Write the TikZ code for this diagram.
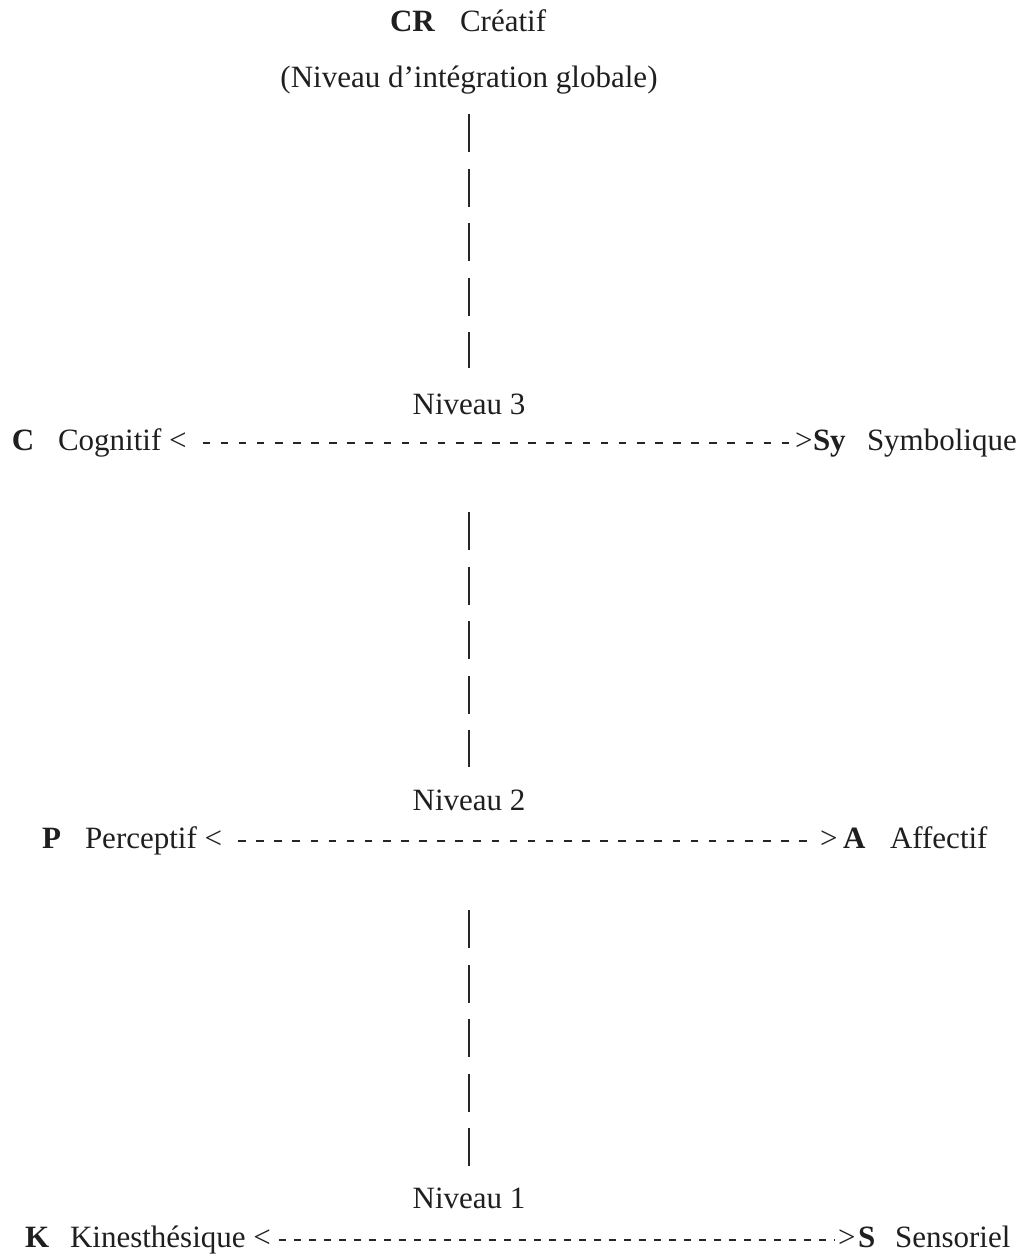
\documentclass[tikz,border=0pt]{standalone}
\usepackage{fontspec}
\setmainfont{Liberation Serif}
\usetikzlibrary{calc}
\begin{document}
\begin{tikzpicture}[x=1pt,y=-1pt,
  lbl/.style={inner sep=0pt, outer sep=0pt, font=\fontsize{31}{37}\selectfont, anchor=base west, text=black!88},
  ctr/.style={lbl, anchor=base},
  key/.style={lbl, font=\fontsize{31}{37}\selectfont\bfseries},
  vdash/.style={line width=2.6pt, dash pattern=on 38pt off 16.5pt, draw=black!85},
  hdash/.style={line width=2pt, dash pattern=on 7.6pt off 10.5pt, draw=black!85},
  hdashK/.style={line width=2pt, dash pattern=on 7.6pt off 7.4pt, draw=black!85}]
\useasboundingbox (0,0) rectangle (1027,1257);
% top
\node[key] (CR) at (390,32) {CR};
\node[lbl] (cre) at (460,32) {Créatif};
\node[ctr] (glob) at (469,88) {(Niveau d’intégration globale)};
% level 3
\node[ctr] (n3) at (469,414) {Niveau 3};
\node[key] (C) at (12,450) {C};
\node[lbl] (cog) at (58,450) {Cognitif <};
\node[lbl] (gtC) at (795,450) {>};
\node[key] (Sy) at (813,450) {Sy};
\node[lbl] (sym) at (867,450) {Symbolique};
% level 2
\node[ctr] (n2) at (469,810) {Niveau 2};
\node[key] (P) at (42,848) {P};
\node[lbl] (per) at (85,848) {Perceptif <};
\node[lbl] (gtP) at (820,848) {>};
\node[key] (A) at (843,848) {A};
\node[lbl] (aff) at (890,848) {Affectif};
% level 1
\node[ctr] (n1) at (469,1208) {Niveau 1};
\node[key] (K) at (25,1247) {K};
\node[lbl] (kin) at (70,1247) {Kinesthésique <};
\node[lbl] (gtK) at (838,1247) {>};
\node[key] (S) at (858,1247) {S};
\node[lbl] (sen) at (895,1247) {Sensoriel};
% vertical connectors
\draw[vdash] ($(glob.south)+(0,19.5)$) -- ($(n3.north)+(0,-25)$);
\draw[vdash] ($(n3.south)+(0,98)$) -- ($(n2.north)+(0,-22)$);
\draw[vdash] ($(n2.south)+(0,100)$) -- ($(n1.north)+(0,-21)$);
% horizontal connectors
\draw[hdash] ($(cog.base east)+(16,-7.5)$) -- ($(gtC.base west)+(-3,-7.5)$);
\draw[hdash] ($(per.base east)+(16,-7.5)$) -- ($(gtP.base west)+(-3,-7.5)$);
\draw[hdashK] ($(kin.base east)+(8,-7.5)$) -- ($(gtK.base west)+(-3,-7.5)$);
\end{tikzpicture}
\end{document}
